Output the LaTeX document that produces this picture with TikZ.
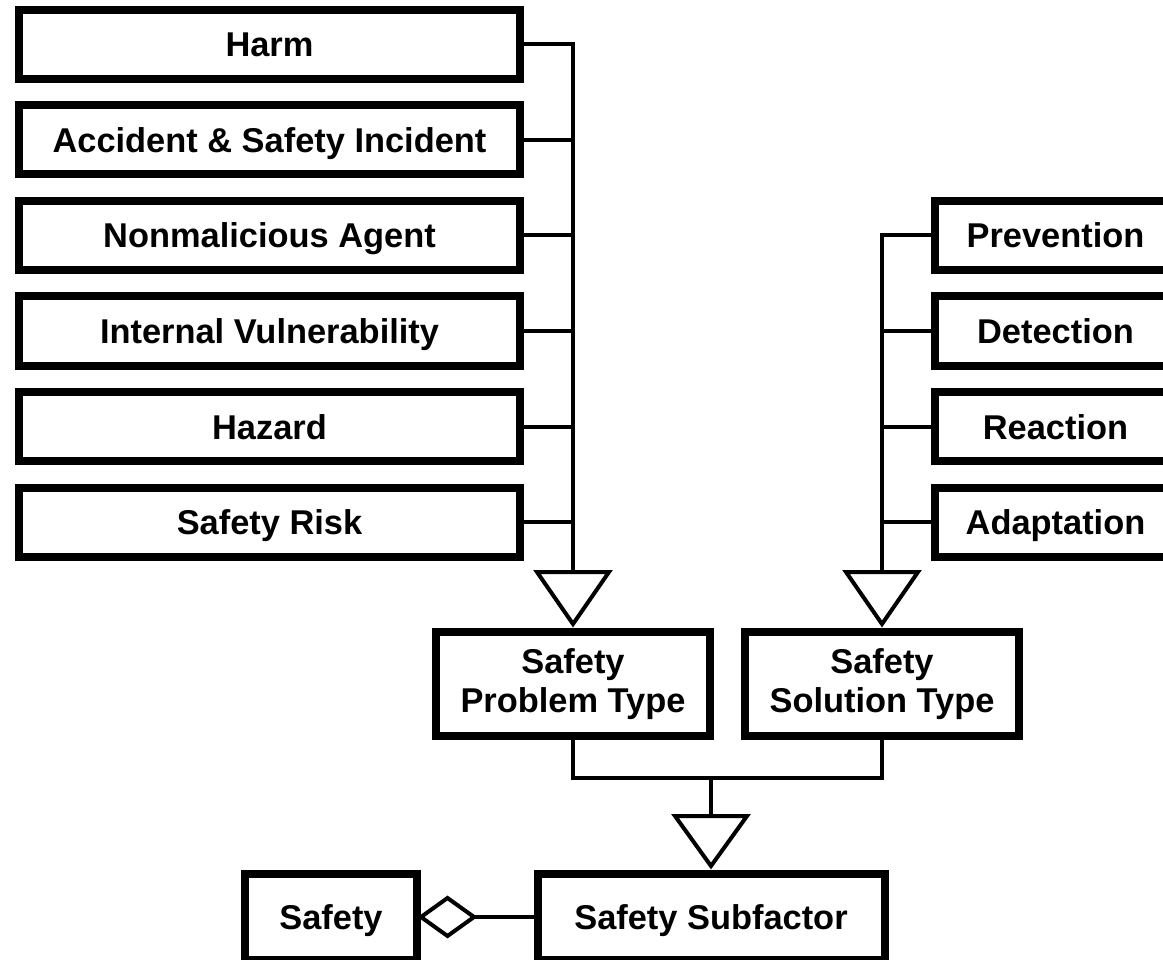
\documentclass[tikz,border=0pt]{standalone}
\usepackage{fontspec}
\setmainfont{Liberation Sans}
\usetikzlibrary{calc}
\begin{document}
\begin{tikzpicture}[x=1pt,y=-1pt,
  box/.style={draw,line width=8pt,inner sep=0pt,align=center,font=\fontsize{34.4}{39}\selectfont\bfseries},
  onerow/.style={box,minimum height=69pt,text height=25pt,text depth=0pt},
  lrow/.style={onerow,minimum width=501pt},
  rrow/.style={onerow,minimum width=241pt},
  conn/.style={line width=4pt,line join=miter},
  gen/.style={line width=4pt,line join=miter,fill=white}]
\useasboundingbox (0,0) rectangle (1163,960);
\clip (0,0) rectangle (1163,960);
% left column
\node[lrow] (harm) at (269.5,44.5) {Harm};
\node[lrow] (acc)  at (269.5,140) {Accident \& Safety Incident};
\node[lrow] (agent) at (269.5,235.5) {Nonmalicious Agent};
\node[lrow] (vuln) at (269.5,331) {Internal Vulnerability};
\node[lrow] (haz)  at (269.5,426.5) {Hazard};
\node[lrow] (risk) at (269.5,522) {Safety Risk};
% right column
\node[rrow] (prev) at (1055.5,235.5) {Prevention};
\node[rrow] (det)  at (1055.5,331) {Detection};
\node[rrow] (reac) at (1055.5,426.5) {Reaction};
\node[rrow] (adap) at (1055.5,522) {Adaptation};
% types
\node[box,minimum width=274pt,minimum height=104pt] (prob) at (573,684) {Safety\\Problem Type};
\node[box,minimum width=274pt,minimum height=104pt] (sol) at (882,684) {Safety\\Solution Type};
% bottom
\node[onerow,minimum width=347pt,minimum height=86pt] (sub) at (711,917) {Safety Subfactor};
\node[onerow,minimum width=172pt,minimum height=86pt] (safety) at (331,917) {Safety};
% junction coordinates
\coordinate (t1) at (573,572);
\coordinate (t2) at (882,572);
\coordinate (m) at (711,778);
\coordinate (t3) at (711,816);
\coordinate (dtip) at (474,917);
% left connectors
\draw[conn] (harm.east) -| (t1);
\foreach \n in {acc,agent,vuln,haz,risk} \draw[conn] (\n.east) -- (\n.east -| t1);
% right connectors
\draw[conn] (prev.west) -| (t2);
\foreach \n in {det,reac,adap} \draw[conn] (\n.west) -- (\n.west -| t2);
% generalization triangles
\draw[gen] ($(t1)+(-36,0)$) -- ($(t1)+(36,0)$) -- ($(prob.north)+(0,-4)$) -- cycle;
\draw[gen] ($(t2)+(-36,0)$) -- ($(t2)+(36,0)$) -- ($(sol.north)+(0,-4)$) -- cycle;
% merge
\draw[conn] (prob.south) |- (m) -| (sol.south);
\draw[conn] (m) -- (t3);
\draw[gen] ($(t3)+(-36,0)$) -- ($(t3)+(36,0)$) -- ($(sub.north)+(0,-4)$) -- cycle;
% aggregation diamond
\draw[conn] (sub.west) -- (dtip);
\draw[gen] (safety.east) -- ++(26.5,-19) -- (dtip) -- ++(-26.5,19) -- cycle;
\end{tikzpicture}
\end{document}
